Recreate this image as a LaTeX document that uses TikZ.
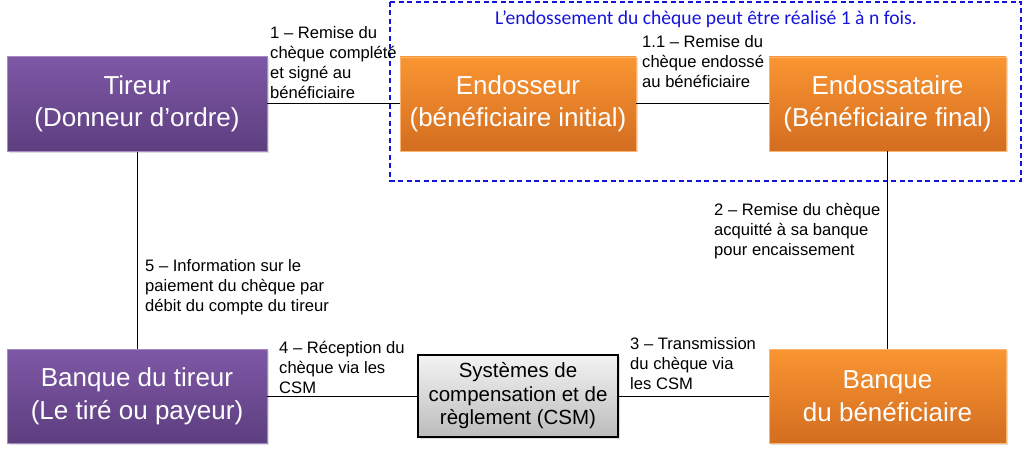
\documentclass[tikz,border=0pt]{standalone}
\usepackage{fontspec}
\setmainfont{Liberation Sans}
\newfontfamily\carlito{Carlito}
\usetikzlibrary{shadows}
\definecolor{violethaut}{RGB}{126,88,166}
\definecolor{violetbas}{RGB}{93,62,127}
\definecolor{orangehaut}{RGB}{250,149,50}
\definecolor{orangebas}{RGB}{211,109,32}
\definecolor{grishaut}{RGB}{243,243,243}
\definecolor{grisbas}{RGB}{188,188,188}
\definecolor{bleucadre}{RGB}{20,20,220}
\tikzset{
  acteur/.style={rectangle, text=white, align=center, inner sep=0pt,
    font=\fontsize{26}{31.5}\selectfont,
    drop shadow={opacity=0.25, shadow xshift=1.5pt, shadow yshift=-1.5pt}},
  payeur/.style={acteur, top color=violethaut, bottom color=violetbas, draw=violethaut!70!white, line width=0.6pt},
  porteur/.style={acteur, top color=orangehaut, bottom color=orangebas, draw=orangehaut!70!white, line width=0.6pt},
  systeme/.style={rectangle, draw=black, line width=1.2pt, top color=grishaut, bottom color=grisbas,
    align=center, inner sep=0pt, font=\fontsize{20.5}{23.5}\selectfont,
    drop shadow={opacity=0.25, shadow xshift=1.5pt, shadow yshift=-1.5pt}},
  etape/.style={anchor=north west, align=left, inner sep=0pt, font=\fontsize{16.6}{19.8}\selectfont},
  lien/.style={line width=1pt, black},
}
\begin{document}
\begin{tikzpicture}[x=1pt,y=-1pt]
\useasboundingbox (0,0) rectangle (1024,454);
\draw[bleucadre, line width=1.2pt, dash pattern=on 5pt off 3.5pt] (390,2) rectangle (1021,181);
\node[anchor=base, text=bleucadre, font=\carlito\fontsize{19.6}{22}\selectfont] (fois) at (706,24.5) {L’endossement du chèque peut être réalisé 1 à n fois.};
\node[payeur, minimum width=260pt, minimum height=95pt] (tireur) at (137,104) {Tireur\\(Donneur d’ordre)};
\node[porteur, minimum width=236pt, minimum height=94pt] (endosseur) at (518,104) {Endosseur\\(bénéficiaire initial)};
\node[porteur, minimum width=237pt, minimum height=94pt] (endossataire) at (887.5,104) {Endossataire\\(Bénéficiaire final)};
\node[payeur, minimum width=260pt, minimum height=94pt, font=\fontsize{26}{33}\selectfont] (btireur) at (137,396) {Banque du tireur\\(Le tiré ou payeur)};
\node[systeme, minimum width=200pt, minimum height=82pt] (csm) at (518,396) {Systèmes de\\compensation et de\\règlement (CSM)};
\node[porteur, minimum width=237pt, minimum height=94pt, font=\fontsize{26}{32.5}\selectfont] (bbenef) at (887.5,396) {Banque\\du bénéficiaire};
\draw[lien] (tireur) -- (endosseur);
\draw[lien] (endosseur) -- (endossataire);
\draw[lien] (endossataire) -- (bbenef);
\draw[lien] (bbenef) -- (csm);
\draw[lien] (csm) -- (btireur);
\draw[lien] (btireur) -- (tireur);
\node[etape] (e1) at (270,26.5) {1 – Remise du\\chèque complété\\et signé au\\bénéficiaire};
\node[etape] (e11) at (642,35.5) {1.1 – Remise du\\chèque endossé\\au bénéficiaire};
\node[etape] (e2) at (714,203.5) {2 – Remise du chèque\\acquitté à sa banque\\pour encaissement};
\node[etape] (e3) at (630,337.5) {3 – Transmission\\du chèque via\\les CSM};
\node[etape] (e4) at (279,341.5) {4 – Réception du\\chèque via les\\CSM};
\node[etape] (e5) at (145,259.5) {5 – Information sur le\\paiement du chèque par\\débit du compte du tireur};
\end{tikzpicture}
\end{document}
